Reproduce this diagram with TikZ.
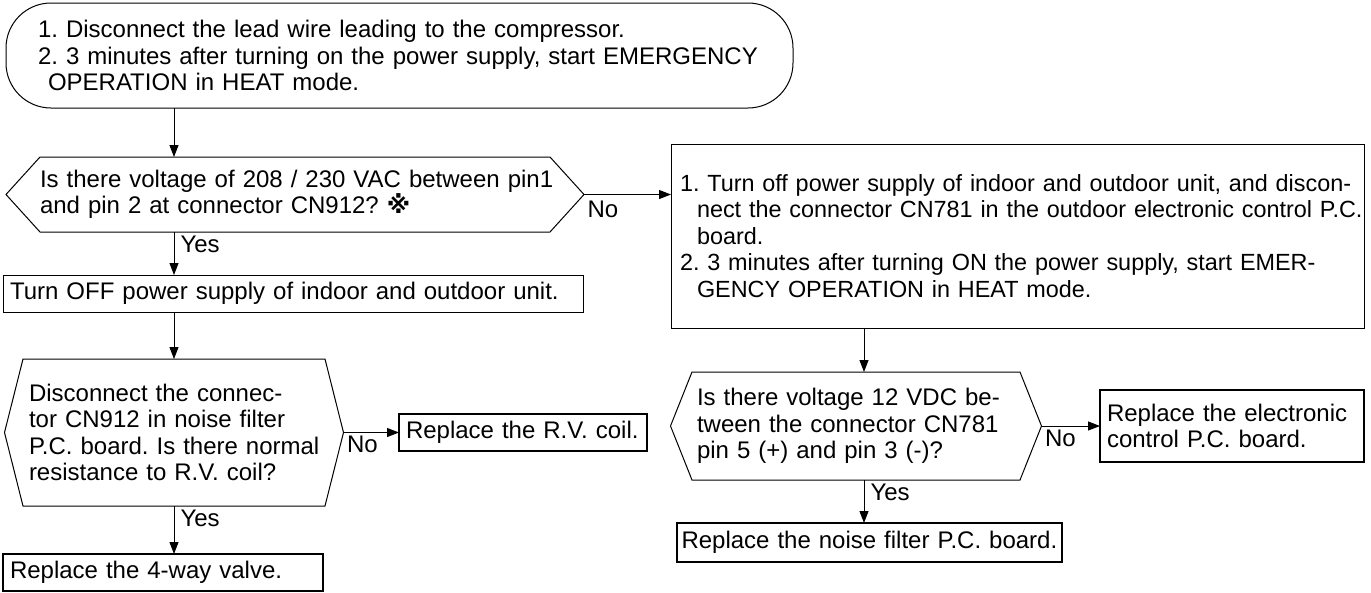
\documentclass[tikz,border=0pt]{standalone}
\usepackage{fontspec}
\setmainfont{Liberation Sans}
\newfontfamily\markfont{DejaVu Sans}
\usetikzlibrary{arrows.meta}

\tikzset{
  txt/.style={font=\fontsize{24}{26.5}\selectfont\frenchspacing, align=left, inner sep=0pt, outer sep=0pt},
  term/.style={txt, draw, rounded corners=45pt},
  box/.style={txt, draw},
  endbox/.style={txt, draw, line width=2.6pt},
  dec/.style={txt},
  lbl/.style={font=\fontsize{24}{26.5}\selectfont, inner sep=3pt}
}

% hexagon round a decision node, tips named <node>-l and <node>-r
\newcommand{\hexbox}[2]{%
  \draw (#1.north west) -- (#1.north east) -- ([xshift=#2]#1.east) coordinate (#1-r)
    -- (#1.south east) -- (#1.south west) -- ([xshift=-#2]#1.west) coordinate (#1-l) -- cycle;}

\begin{document}
\begin{tikzpicture}[>={Triangle[length=12pt,width=9pt]}, x=1pt, y=-1pt, line width=1pt]
  \useasboundingbox (0,0) rectangle (1371,592);
  \coordinate (spine) at (174,0);
  \coordinate (spine2) at (864,0);

  % Start
  \node[term, minimum width=787pt, minimum height=105pt, text width=723pt] (start) at (399.5,55.5)
    {1. Disconnect the lead wire leading to the compressor.\\
     \mbox{2. 3 minutes after turning on the power supply, start EMERGENCY}\\
     \hspace*{10pt}OPERATION in HEAT mode.};

  % Check 1
  \node[dec, minimum width=510pt, minimum height=75pt, text width=510pt] (q1) at (295,194.5)
    {\mbox{Is there voltage of 208 / 230 VAC between pin1}\\
     and pin 2 at connector CN912? {\markfont\bfseries ※}};
  \hexbox{q1}{34pt}

  % Left branch
  \node[box, minimum width=580pt, minimum height=37pt, text width=566pt] (off) at (293,293.5)
    {\mbox{Turn OFF power supply of indoor and outdoor unit.}};

  \node[dec, minimum width=302pt, minimum height=147pt, text width=290pt] (q2) at (174,432.5)
    {Disconnect the connec-\\
     tor CN912 in noise filter\\
     \mbox{P.C. board. Is there normal}\\
     resistance to R.V. coil?};
  \hexbox{q2}{18.5pt}

  \node[endbox, minimum width=248pt, minimum height=37pt, text width=234pt] (rv) at (523,432.5)
    {\mbox{Replace the R.V. coil.}};
  \node[endbox, minimum width=320pt, minimum height=37pt, text width=306pt] (valve) at (163,572.5)
    {Replace the 4-way valve.};

  % Right branch
  \node[box, minimum width=693pt, minimum height=184pt, text width=675pt,
        font=\fontsize{23.4}{26.5}\selectfont\frenchspacing] (steps) at (1017.5,236)
    {\mbox{1. Turn off power supply of indoor and outdoor unit, and discon-}\\
     \hspace*{17pt}\mbox{nect the connector CN781 in the outdoor electronic control P.C.}\\
     \hspace*{17pt}board.\\
     \mbox{2. 3 minutes after turning ON the power supply, start EMER-}\\
     \hspace*{17pt}GENCY OPERATION in HEAT mode.};

  \node[dec, minimum width=328pt, minimum height=108pt, text width=318pt] (q3) at (856,426)
    {Is there voltage 12 VDC be-\\
     tween the connector CN781\\
     pin 5 (+) and pin 3 (-)?};
  \hexbox{q3}{21.5pt}

  \node[endbox, minimum width=264pt, minimum height=72pt, text width=250pt] (pcb) at (1232,426)
    {Replace the electronic\\
     control P.C. board.};
  \node[endbox, minimum width=385pt, minimum height=39pt, text width=376pt] (filter) at (869.5,542.5)
    {\mbox{Replace the noise filter P.C. board.}};

  % Connectors
  \draw[->] (start.south -| spine) -- (q1.north -| spine);
  \draw[->] (q1.south -| spine) -- (off.north -| spine);
  \draw[->] (off.south -| spine) -- (q2.north -| spine);
  \draw[->] (q2.south -| spine) -- (valve.north -| spine);
  \draw[->] (q1-r) -- (q1-r -| steps.west);
  \draw[->] (q2-r) -- (q2-r -| rv.west);
  \draw[->] (steps.south -| spine2) -- (q3.north -| spine2);
  \draw[->] (q3.south -| spine2) -- (filter.north -| spine2);
  \draw[->] (q3-r) -- (q3-r -| pcb.west);

  % Labels
  \node[lbl, anchor=north west, yshift=-3pt] (no1) at (q1-r) {No};
  \node[lbl, anchor=north west, xshift=3pt] (yes1) at (q1.south -| spine) {Yes};
  \node[lbl, anchor=north west] (no2) at (q2-r) {No};
  \node[lbl, anchor=north west, xshift=3pt] (yes2) at (q2.south -| spine) {Yes};
  \node[lbl, anchor=north west] (no3) at (q3-r) {No};
  \node[lbl, anchor=north west, xshift=3pt] (yes3) at (q3.south -| spine2) {Yes};
\end{tikzpicture}
\end{document}
